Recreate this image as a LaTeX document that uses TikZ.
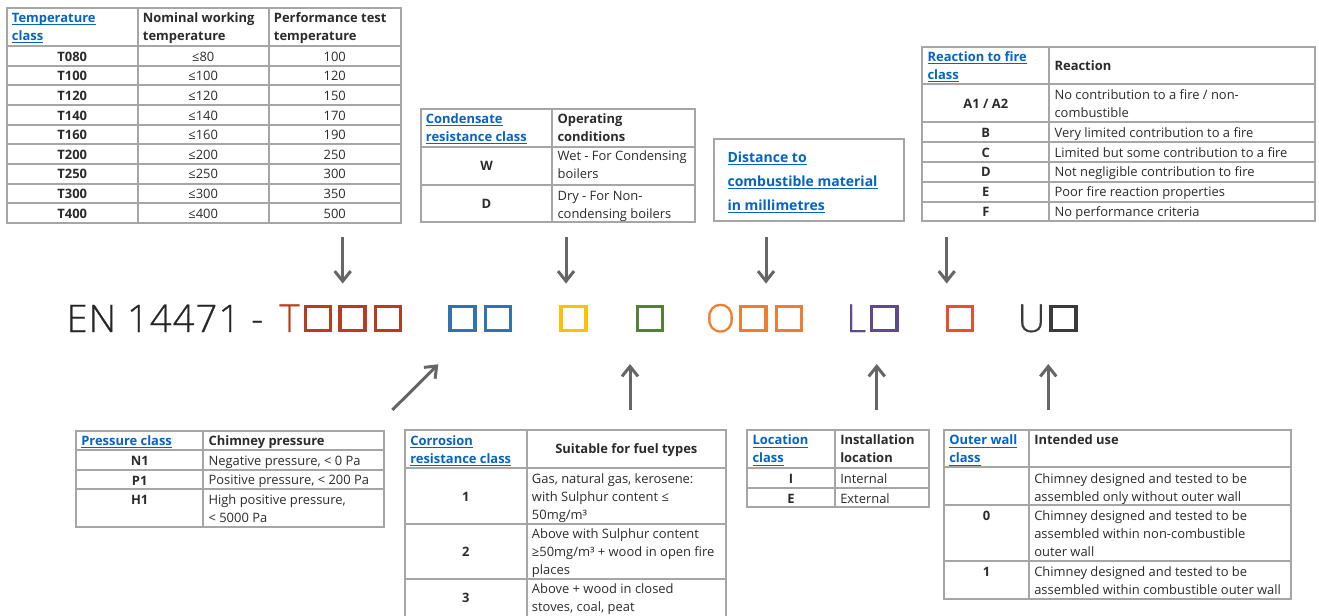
\documentclass[tikz,border=0pt]{standalone}
\usepackage{fontspec}
\setmainfont{Open Sans}
\IfFontExistsTF{Open Sans Light}{\newfontfamily\bigf[LetterSpace=3,FakeBold=0.6]{Open Sans Light}\newfontfamily\lightf[FakeBold=0.6]{Open Sans Light}}{\newfontfamily\bigf{Open Sans}\newfontfamily\lightf{Open Sans}}
\usetikzlibrary{arrows.meta}
\definecolor{txtc}{HTML}{2B2B2B}
\definecolor{linkc}{HTML}{0563C1}
\definecolor{gridc}{HTML}{A6A6A6}
\definecolor{arrc}{HTML}{666666}
\definecolor{enc}{HTML}{262626}
\definecolor{cred}{HTML}{B83C1E}
\definecolor{cblue}{HTML}{2E74B5}
\definecolor{cyel}{HTML}{FFC000}
\definecolor{cgreen}{HTML}{548235}
\definecolor{corange}{HTML}{ED7D31}
\definecolor{cpurple}{HTML}{5F4B8B}
\definecolor{credor}{HTML}{E9502A}
\definecolor{cdark}{HTML}{3A3A3A}
\newcommand\mystrut{\rule{0pt}{8.5pt}}
\newcommand\lnk[1]{\setbox0\hbox{#1}\rlap{\rule[-2pt]{\wd0}{0.8pt}}\box0}
\tikzset{
  tbl/.style={draw=gridc, line width=1.5pt},
  tr/.style={inner sep=0pt, text=txtc, font=\fontsize{9.7}{13.5}\selectfont},
  tb/.style={inner sep=0pt, text=txtc, font=\fontsize{9.7}{13.5}\selectfont\bfseries},
  tl/.style={inner sep=0pt, text=linkc, font=\fontsize{9.7}{13.5}\selectfont\bfseries},
  ml/.style={anchor=north west, align=left},
  arr/.style={draw=arrc, line width=2.25pt, -{Straight Barb[length=7.5pt,width=12pt]}},
  sq/.style={draw=#1, line width=2.5pt, minimum width=18.8pt, minimum height=17.8pt, inner sep=0pt},
  big/.style={inner sep=0pt, font=\bigf\fontsize{28.5}{34}\selectfont, text=#1},
  bigc/.style={inner sep=0pt, font=\lightf\fontsize{29}{34}\selectfont, text=#1}
}
\begin{document}
\begin{tikzpicture}[x=0.75pt,y=-0.75pt]
\useasboundingbox (0,0) rectangle (1319,615);

% ---------- Temperature table ----------
\draw[tbl] (6.7,8.3) rectangle (400.7,222.7);
\draw[tbl] (137.7,8.3) -- (137.7,222.7) (268.7,8.3) -- (268.7,222.7);
\foreach \yy in {46,65.7,85.3,105,124.7,144.3,164,183.7,203.3}
  \draw[tbl] (6.7,\yy) -- (400.7,\yy);
\node[tl,ml] (th1) at (11.7,22-11.33) {\mystrut\lnk{Temperature}\\\lnk{class}};
\node[tb,ml] (th2) at (142.7,22-11.33) {\mystrut Nominal working\\temperature};
\node[tb,ml] (th3) at (273.7,22-11.33) {\mystrut Performance test\\temperature};
\foreach \a/\b/\c [count=\i from 0] in {T080/≤80/100,T100/≤100/120,T120/≤120/150,T140/≤140/170,T160/≤160/190,T200/≤200/250,T250/≤250/300,T300/≤300/350,T400/≤400/500}{
  \pgfmathsetmacro\yb{61.3+19.6*\i}
  \node[tb,anchor=base] (tc\i) at (72.3,\yb) {\a};
  \node[tr,anchor=base] (tn\i) at (203.2,\yb) {\b};
  \node[tr,anchor=base] (tp\i) at (334.7,\yb) {\c};
}

% ---------- Condensate table ----------
\draw[tbl] (420.7,109) rectangle (695,221.7);
\draw[tbl] (552.3,109) -- (552.3,221.7);
\draw[tbl] (420.7,146.7) -- (695,146.7) (420.7,185) -- (695,185);
\node[tl,ml] (ch1) at (425.7,123.5-11.33) {\mystrut\lnk{Condensate}\\\lnk{resistance class}};
\node[tb,ml] (ch2) at (557.3,123.5-11.33) {\mystrut Operating\\conditions};
\node[tb,anchor=base] (cw) at (486.5,170.6) {W};
\node[tr,ml] (cwt) at (557.3,160.7-11.33) {\mystrut Wet - For Condensing\\boilers};
\node[tb,anchor=base] (cd) at (486.5,208.9) {D};
\node[tr,ml] (cdt) at (557.3,200-11.33) {\mystrut Dry - For Non-\\condensing boilers};

% ---------- Distance box ----------
\draw[tbl] (714.3,139.3) rectangle (904,220.7);
\node[tl,ml,font=\fontsize{10.5}{18}\selectfont\bfseries] (dist) at (727.3,162.5-11.33)
  {\mystrut\lnk{Distance to}\\\lnk{combustible material}\\\lnk{in millimetres}};

% ---------- Reaction to fire table ----------
\draw[tbl] (922.3,47.3) rectangle (1315,221);
\draw[tbl] (1049.3,47.3) -- (1049.3,221);
\foreach \yy in {84.3,122.3,142.3,162.3,182.3,202.3}
  \draw[tbl] (922.3,\yy) -- (1315,\yy);
\node[tl,ml] (rh1) at (927.3,61.5-11.33) {\mystrut\lnk{Reaction to fire}\\\lnk{class}};
\node[tb,anchor=base west] (rh2) at (1054.3,70.5) {Reaction};
\node[tb,anchor=base] (ra) at (985.8,108.9) {A1 / A2};
\node[tr,ml] (rat) at (1054.3,99-11.33) {\mystrut No contribution to a fire / non-\\combustible};
\foreach \a/\b [count=\i from 0] in {B/Very limited contribution to a fire,C/Limited but some contribution to a fire,D/Not negligible contribution to fire,E/Poor fire reaction properties,F/No performance criteria}{
  \pgfmathsetmacro\yb{137.3+19.75*\i}
  \node[tb,anchor=base] (rc\i) at (985.8,\yb) {\a};
  \node[tr,anchor=base west] (rt\i) at (1054.3,\yb) {\b};
}

% ---------- Pressure table ----------
\draw[tbl] (76,430.7) rectangle (384.3,527.3);
\draw[tbl] (203.3,430.7) -- (203.3,527.3);
\draw[tbl] (76,450) -- (384.3,450) (76,470) -- (384.3,470) (76,489.3) -- (384.3,489.3);
\node[tl,anchor=base west] (ph1) at (81,445) {\lnk{Pressure class}};
\node[tb,anchor=base west] (ph2) at (208.3,445) {Chimney pressure};
\node[tb,anchor=base] (pn) at (139.7,465.5) {N1};
\node[tr,anchor=base west] (pnt) at (208.3,465) {Negative pressure, < 0 Pa};
\node[tb,anchor=base] (pp) at (139.7,485.2) {P1};
\node[tr,anchor=base west] (ppt) at (208.3,484.7) {Positive pressure, < 200 Pa};
\node[tb,anchor=base] (ph) at (139.7,504.5) {H1};
\node[tr,ml] (pht) at (208.3,504-11.33) {\mystrut High positive pressure,\\< 5000 Pa};

% ---------- Corrosion table ----------
\draw[tbl] (405,615.5) -- (405,430) -- (726,430) -- (726,615.5);
\draw[tbl] (526.7,430) -- (526.7,615.5);
\draw[tbl] (405,467.7) -- (726,467.7) (405,524) -- (726,524) (405,579.3) -- (726,579.3);
\node[tl,ml] (kh1) at (410,445-11.33) {\mystrut\lnk{Corrosion}\\\lnk{resistance class}};
\node[tb,anchor=base] (kh2) at (626.3,453.5) {Suitable for fuel types};
\node[tb,anchor=base] (k1) at (465.8,501.3) {1};
\node[tr,ml] (k1t) at (531.7,483.3-11.33) {\mystrut Gas, natural gas, kerosene:\\with Sulphur content ≤\\50mg/m³};
\node[tb,anchor=base] (k2) at (465.8,556.9) {2};
\node[tr,ml] (k2t) at (531.7,538.3-11.33) {\mystrut Above with Sulphur content\\≥50mg/m³ + wood in open fire\\places};
\node[tb,anchor=base] (k3) at (465.8,602.9) {3};
\node[tr,ml] (k3t) at (531.7,593.3-11.33) {\mystrut Above + wood in closed\\stoves, coal, peat};

% ---------- Location table ----------
\draw[tbl] (747.3,430) rectangle (929.3,507.3);
\draw[tbl] (835,430) -- (835,507.3);
\draw[tbl] (747.3,467.7) -- (929.3,467.7) (747.3,487.7) -- (929.3,487.7);
\node[tl,ml] (lh1) at (752.3,444.7-11.33) {\mystrut\lnk{Location}\\\lnk{class}};
\node[tb,ml] (lh2) at (840,444.7-11.33) {\mystrut Installation\\location};
\node[tb,anchor=base] (li) at (791,483.6) {I};
\node[tr,anchor=base west] (lit) at (840,483.3) {Internal};
\node[tb,anchor=base] (le) at (791,503.9) {E};
\node[tr,anchor=base west] (let) at (840,503.6) {External};

% ---------- Outer wall table ----------
\draw[tbl] (944,430) rectangle (1290.7,599);
\draw[tbl] (1029,430) -- (1029,599);
\draw[tbl] (944,467.3) -- (1290.7,467.3) (944,505) -- (1290.7,505) (944,561) -- (1290.7,561);
\node[tl,ml] (oh1) at (949,444.7-11.33) {\mystrut\lnk{Outer wall}\\\lnk{class}};
\node[tb,anchor=base west] (oh2) at (1034,444.7) {Intended use};
\node[tr,ml] (o1t) at (1034,483.3-11.33) {\mystrut Chimney designed and tested to be\\assembled only without outer wall};
\node[tb,anchor=base] (o0) at (986.5,520.3) {0};
\node[tr,ml] (o0t) at (1034,520-11.33) {\mystrut Chimney designed and tested to be\\assembled within non-combustible\\outer wall};
\node[tb,anchor=base] (o1) at (986.5,576.3) {1};
\node[tr,ml] (o2t) at (1034,576-11.33) {\mystrut Chimney designed and tested to be\\assembled within combustible outer wall};

% ---------- Designation line ----------
\node[big=enc,anchor=base west] (en) at (66.3,332) {EN 14471 -};
\node[bigc=cred,anchor=base] (lt) at (289.5,332) {T};
\node[sq=cred] (r1) at (317.7,318.5) {};
\node[sq=cred] (r2) at (352.5,318.5) {};
\node[sq=cred] (r3) at (387.8,318.5) {};
\node[sq=cblue] (b1) at (462.5,318.5) {};
\node[sq=cblue] (b2) at (498,318.5) {};
\node[sq=cyel] (y1) at (573.5,318.5) {};
\node[sq=cgreen] (g1) at (649.7,318.5) {};
\node[bigc=corange,anchor=base] (lo) at (720.5,332) {O};
\node[sq=corange] (o1s) at (753.3,318.5) {};
\node[sq=corange] (o2s) at (789.2,318.5) {};
\node[bigc=cpurple,anchor=base west] (ll) at (846,332) {L};
\node[sq=cpurple] (p1) at (884.3,318.5) {};
\node[sq=credor] (e1) at (959.7,318.5) {};
\node[bigc=cdark,anchor=base] (lu) at (1031.5,332) {U};
\node[sq=cdark] (d1) at (1063.6,318.5) {};

% ---------- Arrows ----------
\coordinate (a1s) at (342.7,237); \coordinate (a1e) at (342.7,283.5);
\coordinate (a2s) at (566,237);   \coordinate (a2e) at (566,283.5);
\coordinate (a3s) at (766,237);   \coordinate (a3e) at (766,283.5);
\coordinate (a4s) at (946.7,237); \coordinate (a4e) at (946.7,283.5);
\coordinate (u1s) at (392.3,410); \coordinate (u1e) at (438.3,364.3);
\coordinate (u2s) at (630,410);   \coordinate (u2e) at (630,364);
\coordinate (u3s) at (876.7,410); \coordinate (u3e) at (876.7,364);
\coordinate (u4s) at (1048.3,410);\coordinate (u4e) at (1048.3,364);
\foreach \s/\e in {a1s/a1e,a2s/a2e,a3s/a3e,a4s/a4e,u1s/u1e,u2s/u2e,u3s/u3e,u4s/u4e}
  \draw[arr] (\s) -- (\e);
\end{tikzpicture}
\end{document}
